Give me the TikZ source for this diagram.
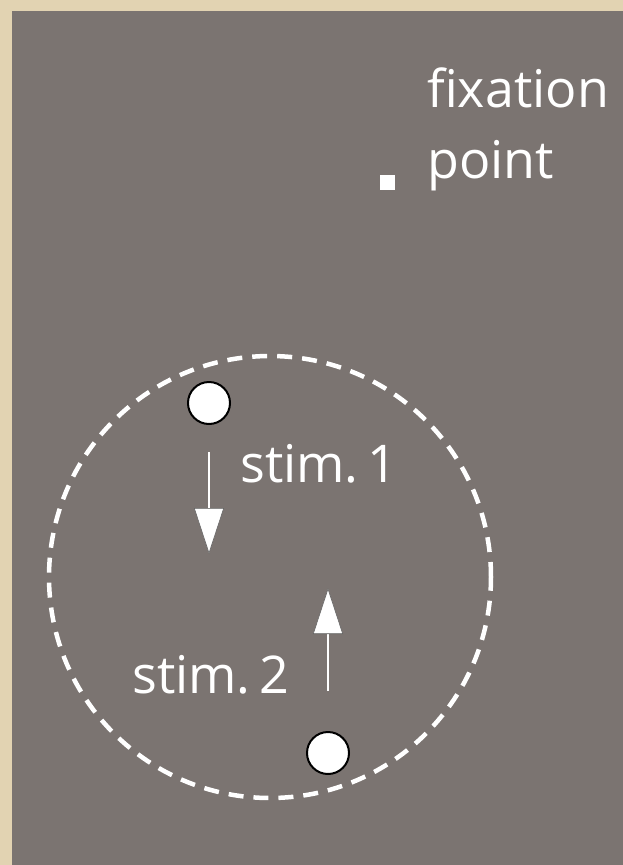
\documentclass[tikz,border=0pt]{standalone}
\usepackage{fontspec}
\setmainfont{Open Sans}
\usetikzlibrary{arrows.meta}
\definecolor{frame}{RGB}{226,211,178}
\definecolor{panel}{RGB}{123,116,113}
\tikzset{
    label/.style={text=white, inner sep=0pt, font=\fontsize{52}{71}\selectfont, align=left},
    stimdot/.style={circle, draw=black, line width=2pt, fill=white,
                    minimum size=42pt, inner sep=0pt},
    ring/.style={circle, draw=white, line width=4.5pt, dash pattern=on 15pt off 10pt,
                 minimum size=442pt, inner sep=0pt},
    fixdot/.style={fill=white, minimum size=15pt, inner sep=0pt},
    motion/.style={draw=white, line width=2pt,
                   -{Triangle[length=46pt, width=30pt, fill=white, color=black!60, line width=0.6pt]}},
}
\begin{document}
\begin{tikzpicture}[x=1pt, y=-1pt]

    \fill[frame] (0,0) rectangle (623,865);
    \fill[panel] (12,11) rectangle (623,865);

    % fixation point
    \node[fixdot] (fix) at (387.5,182.5) {};
    \node[label, anchor=base west] (fixlabel) at (427,178) {fixation\\point};

    % receptive field
    \node[ring] (field) at (270,577) {};

    % stimuli
    \node[stimdot] (s1) at (209,403) {};
    \node[stimdot] (s2) at (328,753) {};
    \coordinate (a1from) at (209,452);
    \coordinate (a1to) at (209,554);
    \coordinate (a2from) at (328,691);
    \coordinate (a2to) at (328,588);
    \draw[motion] (a1from) -- (a1to);
    \draw[motion] (a2from) -- (a2to);
    \node[label, anchor=base west] (s1label) at (240,482) {stim.\,1};
    \node[label, anchor=base west] (s2label) at (132,693) {stim.\,2};

\end{tikzpicture}
\end{document}
